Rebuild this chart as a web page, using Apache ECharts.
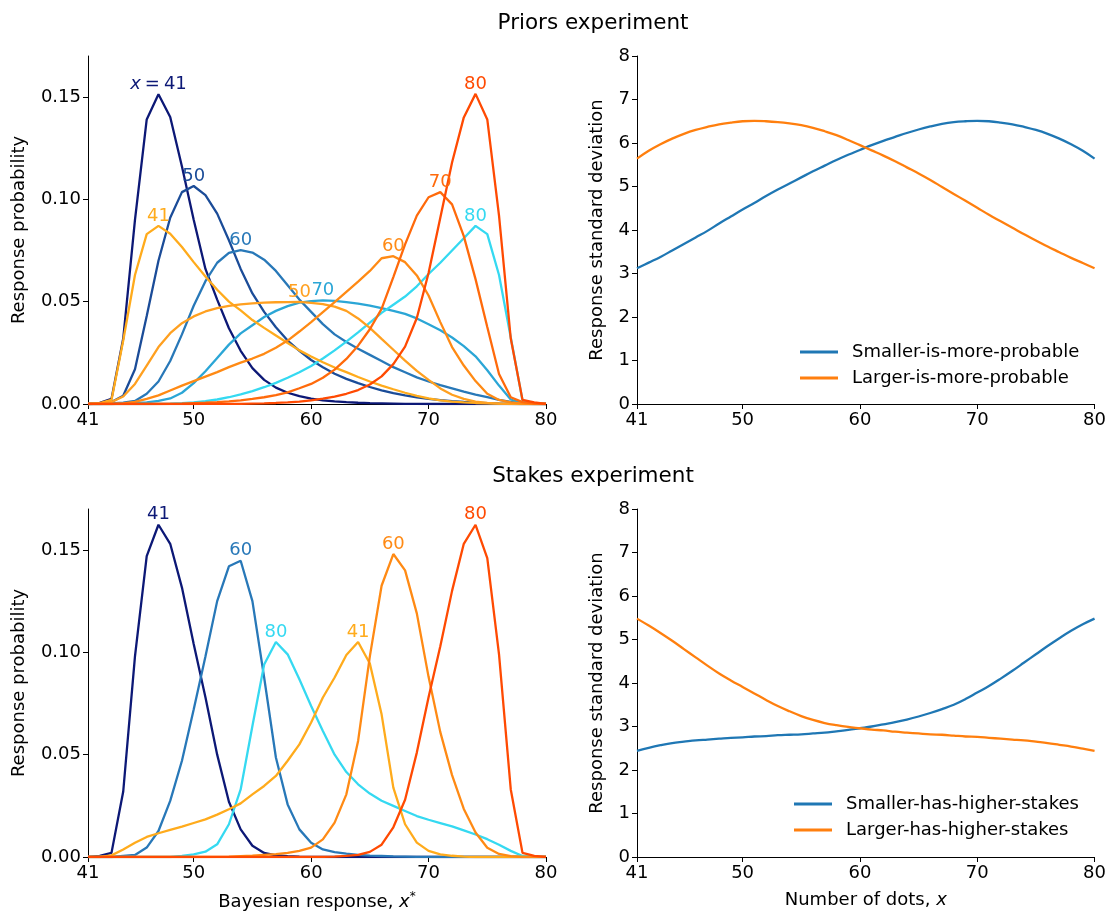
<!DOCTYPE html>
<html>
<head>
<meta charset="utf-8">
<script src="https://cdn.jsdelivr.net/npm/echarts@6/dist/echarts.min.js"></script>
<style>
  html, body { margin: 0; padding: 0; background: #fff; }
  #chart { width: 1109px; height: 913px; }
</style>
</head>
<body>
<div id="chart"></div>
<script>
// number of dots / response values on the x axes
const dots = [41, 42, 43, 44, 45, 46, 47, 48, 49, 50, 51, 52, 53, 54, 55, 56, 57, 58, 59, 60,
              61, 62, 63, 64, 65, 66, 67, 68, 69, 70, 71, 72, 73, 74, 75, 76, 77, 78, 79, 80];
const xTicks = [41, 50, 60, 70, 80];
const probTicks = [0, 0.05, 0.10, 0.15];

// Priors experiment, response distributions (smaller-is-more-probable)
const priorSmall41 = [0, 0.0006, 0.0025, 0.032, 0.090, 0.139, 0.1513, 0.1402, 0.116, 0.090, 0.066, 0.051, 0.037, 0.026, 0.0175, 0.0118, 0.008, 0.0055, 0.0038, 0.0026,
                      0.0018, 0.0013, 0.0009, 0.0006, 0.0004, 0.0003, 0.0002, 0.0001, 0.0001, 0, 0, 0, 0, 0, 0, 0, 0, 0, 0, 0];
const priorSmall50 = [0, 0.0002, 0.001, 0.004, 0.017, 0.043, 0.070, 0.091, 0.1035, 0.1065, 0.102, 0.093, 0.080, 0.066, 0.054, 0.045, 0.0375, 0.031, 0.026, 0.0215,
                      0.018, 0.0148, 0.0123, 0.0102, 0.0083, 0.0067, 0.0053, 0.0042, 0.0033, 0.0025, 0.0019, 0.0014, 0.001, 0.0007, 0.0004, 0.0002, 0.0001, 0, 0, 0];
const priorSmall60 = [0, 0, 0.0003, 0.0007, 0.0015, 0.005, 0.011, 0.021, 0.034, 0.048, 0.060, 0.069, 0.0738, 0.0752, 0.074, 0.0705, 0.065, 0.058, 0.051, 0.045,
                      0.039, 0.034, 0.0303, 0.027, 0.024, 0.021, 0.018, 0.0155, 0.013, 0.011, 0.0092, 0.0076, 0.006, 0.0046, 0.0033, 0.002, 0.001, 0.0003, 0.0001, 0];
const priorSmall70 = [0, 0, 0, 0.0002, 0.0004, 0.0008, 0.0015, 0.0027, 0.0055, 0.0102, 0.016, 0.0225, 0.029, 0.0345, 0.0385, 0.0425, 0.0455, 0.0478, 0.0495, 0.0503,
                      0.0506, 0.0504, 0.0498, 0.049, 0.048, 0.0468, 0.0455, 0.044, 0.0418, 0.039, 0.036, 0.0325, 0.0283, 0.0233, 0.0165, 0.009, 0.0022, 0.0003, 0, 0];
const priorSmall80 = [0, 0, 0, 0, 0, 0, 0.0001, 0.0002, 0.0004, 0.0008, 0.0014, 0.0022, 0.0033, 0.0047, 0.0063, 0.0082, 0.0103, 0.0128, 0.0155, 0.0186,
                      0.0222, 0.0262, 0.0305, 0.035, 0.0398, 0.0445, 0.0485, 0.0525, 0.0575, 0.0635, 0.069, 0.075, 0.081, 0.087, 0.083, 0.063, 0.0325, 0.0017, 0.0002, 0];
// Priors experiment, response distributions (larger-is-more-probable)
const priorLarge41 = [0, 0.0004, 0.002, 0.031, 0.063, 0.083, 0.087, 0.0832, 0.0767, 0.0693, 0.0623, 0.0558, 0.050, 0.0457, 0.041, 0.0372, 0.0335, 0.0298, 0.0262, 0.0232,
                      0.0204, 0.0178, 0.0156, 0.0132, 0.011, 0.009, 0.0072, 0.0055, 0.004, 0.0027, 0.0018, 0.0012, 0.0008, 0.0005, 0.0003, 0.0002, 0.0001, 0, 0, 0];
const priorLarge50 = [0, 0.0002, 0.001, 0.0037, 0.0098, 0.0188, 0.0278, 0.0346, 0.0395, 0.0428, 0.0452, 0.0468, 0.0479, 0.0487, 0.0492, 0.0495, 0.0497, 0.0498, 0.0499, 0.0494,
                      0.0488, 0.0476, 0.0455, 0.0418, 0.0372, 0.0318, 0.0265, 0.0212, 0.0162, 0.0118, 0.0076, 0.0045, 0.0025, 0.0012, 0.0005, 0.0002, 0, 0, 0, 0];
const priorLarge60 = [0, 0, 0, 0.0003, 0.001, 0.0025, 0.0042, 0.0066, 0.009, 0.0112, 0.0134, 0.0156, 0.018, 0.0202, 0.0222, 0.0245, 0.0275, 0.031, 0.0354, 0.040,
                      0.0449, 0.0498, 0.0548, 0.0598, 0.065, 0.0712, 0.0722, 0.0693, 0.0628, 0.053, 0.040, 0.0278, 0.0188, 0.0112, 0.005, 0.002, 0.0008, 0.0002, 0, 0];
const priorLarge70 = [0, 0, 0, 0, 0, 0, 0, 0.0001, 0.0002, 0.0004, 0.0006, 0.0009, 0.0013, 0.0018, 0.0025, 0.0033, 0.0043, 0.0057, 0.0077, 0.0098,
                      0.0128, 0.0168, 0.022, 0.0285, 0.0365, 0.0465, 0.062, 0.078, 0.092, 0.101, 0.1035, 0.0975, 0.082, 0.061, 0.0376, 0.0147, 0.0033, 0.0009, 0.0002, 0];
const priorLarge80 = [0, 0, 0, 0, 0, 0, 0, 0, 0, 0, 0.0001, 0.0001, 0.0001, 0.0001, 0.0002, 0.0003, 0.0005, 0.0008, 0.0012, 0.0018,
                      0.0026, 0.0036, 0.005, 0.0068, 0.0095, 0.0135, 0.0195, 0.028, 0.042, 0.064, 0.091, 0.118, 0.140, 0.1515, 0.139, 0.092, 0.032, 0.002, 0.0008, 0];

// Priors experiment, response standard deviation
const priorSdSmall = [3.12, 3.25, 3.38, 3.53, 3.68, 3.83, 3.98, 4.15, 4.31, 4.47, 4.62, 4.78, 4.93, 5.07, 5.21, 5.35, 5.48, 5.61, 5.73, 5.84,
                      5.95, 6.05, 6.14, 6.23, 6.31, 6.38, 6.44, 6.48, 6.5, 6.51, 6.5, 6.47, 6.43, 6.37, 6.3, 6.21, 6.1, 5.97, 5.82, 5.64];
const priorSdLarge = [5.64, 5.82, 5.97, 6.1, 6.21, 6.3, 6.37, 6.43, 6.47, 6.5, 6.51, 6.5, 6.48, 6.45, 6.41, 6.35, 6.27, 6.18, 6.07, 5.95,
                      5.83, 5.71, 5.58, 5.44, 5.3, 5.15, 4.99, 4.83, 4.67, 4.51, 4.35, 4.2, 4.05, 3.9, 3.76, 3.62, 3.49, 3.36, 3.24, 3.12];

// Stakes experiment, response distributions
const stakeSmall41 = [0, 0.0005, 0.002, 0.032, 0.098, 0.147, 0.1623, 0.153, 0.1316, 0.104, 0.078, 0.050, 0.027, 0.0135, 0.0055, 0.002, 0.0008, 0.0004, 0.0002, 0.0001,
                      0, 0, 0, 0, 0, 0, 0, 0, 0, 0, 0, 0, 0, 0, 0, 0, 0, 0, 0, 0];
const stakeSmall60 = [0, 0, 0, 0.0005, 0.001, 0.0046, 0.0127, 0.0274, 0.047, 0.072, 0.098, 0.125, 0.142, 0.1447, 0.125, 0.0877, 0.0486, 0.0257, 0.0135, 0.007,
                      0.0037, 0.0024, 0.0016, 0.001, 0.0007, 0.0005, 0.0003, 0.0002, 0.0001, 0.0001, 0, 0, 0, 0, 0, 0, 0, 0, 0, 0];
const stakeSmall80 = [0, 0, 0, 0, 0, 0, 0, 0, 0.0005, 0.0013, 0.0026, 0.0062, 0.016, 0.033, 0.064, 0.094, 0.105, 0.099, 0.0868, 0.0738,
                      0.0616, 0.050, 0.0415, 0.0355, 0.031, 0.0275, 0.025, 0.0225, 0.020, 0.0182, 0.0166, 0.015, 0.013, 0.011, 0.0087, 0.006, 0.003, 0.0005, 0, 0];
const stakeLarge41 = [0, 0, 0.0008, 0.0037, 0.007, 0.0098, 0.0116, 0.0132, 0.0148, 0.0166, 0.0184, 0.0207, 0.0233, 0.0262, 0.0306, 0.0347, 0.0396, 0.047, 0.055, 0.0657,
                      0.0779, 0.0877, 0.0987, 0.105, 0.0945, 0.0697, 0.0339, 0.016, 0.007, 0.003, 0.0013, 0.0006, 0.0002, 0, 0, 0, 0, 0, 0, 0];
const stakeLarge60 = [0, 0, 0, 0, 0, 0, 0, 0, 0, 0, 0, 0.0001, 0.0002, 0.0004, 0.0006, 0.001, 0.0014, 0.002, 0.003, 0.0046,
                      0.0086, 0.0168, 0.0306, 0.0567, 0.098, 0.1325, 0.148, 0.140, 0.119, 0.088, 0.061, 0.040, 0.0235, 0.012, 0.0045, 0.0015, 0.0004, 0, 0, 0];
const stakeLarge80 = [0, 0, 0, 0, 0, 0, 0, 0, 0, 0, 0, 0, 0, 0, 0, 0, 0, 0, 0, 0,
                      0.0001, 0.0002, 0.0005, 0.001, 0.0025, 0.006, 0.0145, 0.028, 0.051, 0.078, 0.103, 0.130, 0.153, 0.1623, 0.146, 0.099, 0.033, 0.002, 0.0005, 0];

// Stakes experiment, response standard deviation
const stakeSdSmall = [2.44, 2.51, 2.57, 2.62, 2.65, 2.68, 2.70, 2.72, 2.74, 2.75, 2.77, 2.78, 2.80, 2.81, 2.82, 2.84, 2.86, 2.89, 2.92, 2.96,
                      3.0, 3.05, 3.1, 3.16, 3.23, 3.31, 3.4, 3.5, 3.63, 3.78, 3.93, 4.1, 4.28, 4.47, 4.66, 4.85, 5.03, 5.2, 5.35, 5.48];
const stakeSdLarge = [5.48, 5.32, 5.15, 4.97, 4.78, 4.59, 4.40, 4.22, 4.06, 3.91, 3.76, 3.61, 3.47, 3.35, 3.24, 3.15, 3.08, 3.03, 2.99, 2.96,
                      2.93, 2.91, 2.88, 2.86, 2.84, 2.82, 2.81, 2.79, 2.77, 2.76, 2.74, 2.72, 2.70, 2.68, 2.65, 2.62, 2.58, 2.54, 2.49, 2.44];

const FONT = 'DejaVu Sans';
const INK = '#000';
const FS = 18;
const LW = 2.3;

var chartDom = document.getElementById('chart');
var myChart = echarts.init(chartDom, null, { renderer: 'canvas' });

// one response distribution, labelled at its peak
function distSeries(name, idx, values, color, tag) {
  let peak = 0;
  values.forEach(function (v, i) { if (v > values[peak]) peak = i; });
  const data = values.map(function (v, i) {
    if (i !== peak) return [dots[i], v];
    return {
      value: [dots[i], v],
      label: {
        show: true,
        position: 'top',
        distance: 1,
        formatter: tag,
        color: color,
        fontFamily: FONT,
        fontSize: FS,
        rich: {
          i: { fontStyle: 'italic', fontFamily: FONT, fontSize: FS, color: color },
          eq: { fontFamily: FONT, fontSize: FS, color: color, padding: [0, 4, 0, 4] }
        }
      }
    };
  });
  return {
    name: name,
    type: 'line',
    xAxisIndex: idx,
    yAxisIndex: idx,
    data: data,
    showSymbol: true,
    symbol: 'circle',
    symbolSize: 0,
    lineStyle: { color: color, width: LW },
    itemStyle: { color: color },
    label: { show: false },
    emphasis: { disabled: true },
    silent: true,
    z: 2
  };
}

function sdSeries(name, idx, values, color) {
  return {
    name: name,
    type: 'line',
    xAxisIndex: idx,
    yAxisIndex: idx,
    data: values.map(function (v, i) { return [dots[i], v]; }),
    showSymbol: false,
    smooth: 0.4,
    lineStyle: { color: color, width: LW },
    itemStyle: { color: color },
    emphasis: { disabled: true },
    silent: true
  };
}

function xAxis(idx, name) {
  return {
    type: 'value',
    gridIndex: idx,
    min: 41,
    max: 80,
    name: name || '',
    nameLocation: 'middle',
    nameGap: 34,
    nameTextStyle: {
      color: INK, fontFamily: FONT, fontSize: FS,
      rich: {
        i: { fontStyle: 'italic', fontFamily: FONT, fontSize: FS, color: INK },
        sup: { fontStyle: 'italic', fontFamily: FONT, fontSize: 12, color: INK, verticalAlign: 'top', padding: [0, 0, 10, 0] }
      }
    },
    axisLine: { show: true, onZero: false, lineStyle: { color: INK, width: 1 } },
    axisTick: { show: true, length: 5, customValues: xTicks, lineStyle: { color: INK } },
    axisLabel: { customValues: xTicks, color: INK, fontFamily: FONT, fontSize: FS, margin: 7 },
    splitLine: { show: false }
  };
}

function probAxis(idx) {
  return {
    type: 'value',
    gridIndex: idx,
    min: 0,
    max: 0.17,
    name: 'Response probability',
    nameLocation: 'middle',
    nameRotate: 90,
    nameGap: 60,
    nameTextStyle: { color: INK, fontFamily: FONT, fontSize: FS },
    axisLine: { show: true, lineStyle: { color: INK, width: 1 } },
    axisTick: { show: true, length: 5, customValues: probTicks, lineStyle: { color: INK } },
    axisLabel: {
      customValues: probTicks, color: INK, fontFamily: FONT, fontSize: FS, margin: 7,
      formatter: function (v) { return v.toFixed(2); }
    },
    splitLine: { show: false }
  };
}

function sdAxis(idx) {
  return {
    type: 'value',
    gridIndex: idx,
    min: 0,
    max: 8,
    interval: 1,
    name: 'Response standard deviation',
    nameLocation: 'middle',
    nameRotate: 90,
    nameGap: 31,
    nameTextStyle: { color: INK, fontFamily: FONT, fontSize: FS },
    axisLine: { show: true, lineStyle: { color: INK, width: 1 } },
    axisTick: { show: true, length: 5, lineStyle: { color: INK } },
    axisLabel: { color: INK, fontFamily: FONT, fontSize: FS, margin: 7 },
    splitLine: { show: false }
  };
}

const priorBlues = ['#0c1876', '#1b4c98', '#2878b8', '#2ba6d6', '#35d9f1'];
const priorOranges = ['#ffab1c', '#ffa020', '#ff8a14', '#ff6a0b', '#ff4a02'];
const legendColors = ['#1f77b4', '#ff7f0e'];

var option = {
  animation: false,
  backgroundColor: '#fff',
  title: [
    { text: 'Priors experiment', left: 588, top: 7, textAlign: 'center',
      textStyle: { color: INK, fontFamily: FONT, fontSize: 21.5, fontWeight: 'normal' } },
    { text: 'Stakes experiment', left: 588, top: 460, textAlign: 'center',
      textStyle: { color: INK, fontFamily: FONT, fontSize: 21.5, fontWeight: 'normal' } }
  ],
  grid: [
    { left: 88, top: 56, width: 458, height: 348 },
    { left: 637, top: 56, width: 459, height: 348 },
    { left: 88, top: 509, width: 458, height: 348 },
    { left: 637, top: 509, width: 459, height: 348 }
  ],
  xAxis: [
    xAxis(0),
    xAxis(1),
    xAxis(2, 'Bayesian response, {i|x}{sup|*}'),
    xAxis(3, 'Number of dots, {i|x}')
  ],
  yAxis: [probAxis(0), sdAxis(1), probAxis(2), sdAxis(3)],
  legend: [
    {
      data: ['Smaller-is-more-probable', 'Larger-is-more-probable'],
      orient: 'vertical', left: 795, top: 338, itemWidth: 38, itemHeight: 3, itemGap: 8,
      icon: 'rect',
      textStyle: { color: INK, fontFamily: FONT, fontSize: FS, padding: [0, 0, 0, 9] }
    },
    {
      data: ['Smaller-has-higher-stakes', 'Larger-has-higher-stakes'],
      orient: 'vertical', left: 789, top: 790, itemWidth: 38, itemHeight: 3, itemGap: 8,
      icon: 'rect',
      textStyle: { color: INK, fontFamily: FONT, fontSize: FS, padding: [0, 0, 0, 9] }
    }
  ],
  series: [
    distSeries('prior small 41', 0, priorSmall41, priorBlues[0], '{i|x}{eq|=}41'),
    distSeries('prior small 50', 0, priorSmall50, priorBlues[1], '50'),
    distSeries('prior small 60', 0, priorSmall60, priorBlues[2], '60'),
    distSeries('prior small 70', 0, priorSmall70, priorBlues[3], '70'),
    distSeries('prior small 80', 0, priorSmall80, priorBlues[4], '80'),
    distSeries('prior large 41', 0, priorLarge41, priorOranges[0], '41'),
    distSeries('prior large 50', 0, priorLarge50, priorOranges[1], '50'),
    distSeries('prior large 60', 0, priorLarge60, priorOranges[2], '60'),
    distSeries('prior large 70', 0, priorLarge70, priorOranges[3], '70'),
    distSeries('prior large 80', 0, priorLarge80, priorOranges[4], '80'),

    sdSeries('Smaller-is-more-probable', 1, priorSdSmall, legendColors[0]),
    sdSeries('Larger-is-more-probable', 1, priorSdLarge, legendColors[1]),

    distSeries('stake small 41', 2, stakeSmall41, priorBlues[0], '41'),
    distSeries('stake small 60', 2, stakeSmall60, priorBlues[2], '60'),
    distSeries('stake small 80', 2, stakeSmall80, priorBlues[4], '80'),
    distSeries('stake large 41', 2, stakeLarge41, priorOranges[0], '41'),
    distSeries('stake large 60', 2, stakeLarge60, priorOranges[2], '60'),
    distSeries('stake large 80', 2, stakeLarge80, priorOranges[4], '80'),

    sdSeries('Smaller-has-higher-stakes', 3, stakeSdSmall, legendColors[0]),
    sdSeries('Larger-has-higher-stakes', 3, stakeSdLarge, legendColors[1])
  ]
};
myChart.setOption(option);
</script>
</body>
</html>
